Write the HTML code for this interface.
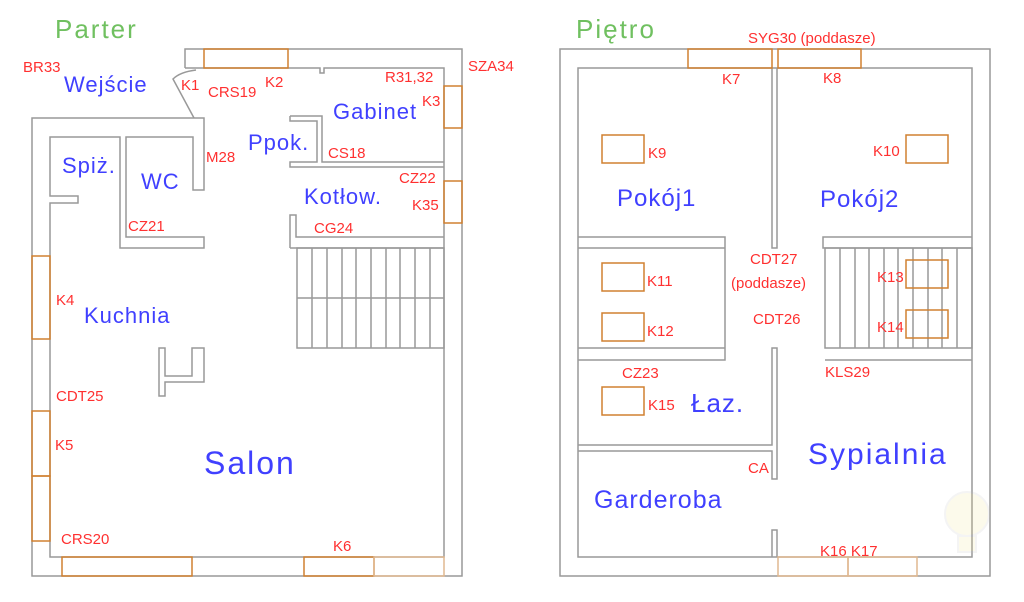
<!DOCTYPE html>
<html><head><meta charset="utf-8"><style>
body{margin:0;background:#fff}
svg{display:block}
text{font-family:"Liberation Sans","DejaVu Sans",sans-serif}
.r{fill:#ff3030;font-size:15px}
.b{fill:#4040ff;font-size:22px;letter-spacing:1px}
.g{fill:#70c060;font-size:26px;letter-spacing:2px}
.w{fill:none;stroke:#999;stroke-width:1.5}
.o{fill:none;stroke:#d08030;stroke-width:1.5}
</style></head><body>
<svg width="1024" height="602" viewBox="0 0 1024 602">
<!-- PARTER -->
<text class="g" x="55" y="38">Parter</text>
<g class="w">
<polyline points="185,68 185,49 462,49 462,576 32,576 32,118 204,118 204,190 193,190 193,137 126,137 126,237 204,237 204,248 120,248 120,137 50,137 50,196 78,196 78,203 50,203 50,557 444,557 444,68 324,68 324,73 320,73 320,68 196,68"/>
<polyline points="185,68 196,68"/>
<path d="M196,70 Q180,72 173,79 L194,118"/>
<polyline points="290,116 322,116 322,162 444,162"/>
<polyline points="290,116 290,121 317,121 317,162 290,162 290,167 444,167"/>
<polyline points="290,248 290,215 296,215 296,237 444,237"/>
<line x1="290" y1="248" x2="444" y2="248"/>
<rect x="297" y="248" width="147" height="100"/>
<line x1="297" y1="298" x2="444" y2="298"/>
<path d="M312,248V348M327,248V348M342,248V348M356,248V348M371,248V348M386,248V348M400,248V348M415,248V348M430,248V348"/>
<polygon points="159,396 159,348 165,348 165,376 192,376 192,348 204,348 204,382 165,382 165,396"/>
</g>
<g class="o">
<rect x="204" y="49" width="84" height="19"/>
<rect x="444" y="86" width="18" height="42"/>
<rect x="444" y="181" width="18" height="42"/>
<rect x="32" y="256" width="18" height="83"/>
<rect x="32" y="411" width="18" height="65"/>
<rect x="32" y="476" width="18" height="65"/>
<rect x="62" y="557" width="130" height="19"/>
<rect x="304" y="557" width="70" height="19"/>
<rect x="374" y="557" width="70" height="19" stroke="#e0b890"/>
</g>
<text class="r" x="23" y="72">BR33</text>
<text class="b" x="64" y="92">Wejście</text>
<text class="r" x="181" y="90">K1</text>
<text class="r" x="208" y="97">CRS19</text>
<text class="r" x="265" y="87">K2</text>
<text class="r" x="385" y="82">R31,32</text>
<text class="r" x="468" y="71">SZA34</text>
<text class="b" x="333" y="119">Gabinet</text>
<text class="r" x="422" y="106">K3</text>
<text class="b" x="248" y="150">Ppok.</text>
<text class="r" x="206" y="162">M28</text>
<text class="r" x="328" y="158">CS18</text>
<text class="b" x="62" y="173">Spiż.</text>
<text class="b" x="141" y="189">WC</text>
<text class="r" x="399" y="183">CZ22</text>
<text class="b" x="304" y="204">Kotłow.</text>
<text class="r" x="412" y="210">K35</text>
<text class="r" x="128" y="231">CZ21</text>
<text class="r" x="314" y="233">CG24</text>
<text class="r" x="56" y="305">K4</text>
<text class="b" x="84" y="323">Kuchnia</text>
<text class="r" x="56" y="401">CDT25</text>
<text class="r" x="55" y="450">K5</text>
<text class="b" x="204" y="474" style="font-size:32px;letter-spacing:2px">Salon</text>
<text class="r" x="61" y="544">CRS20</text>
<text class="r" x="333" y="551">K6</text>
<!-- PIETRO -->
<text class="g" x="576" y="38">Piętro</text>
<g class="w">
<rect x="560" y="49" width="430" height="527"/>
<rect x="578" y="68" width="394" height="489"/>
<polyline points="772,68 772,248 777,248 777,68"/>
<polyline points="578,237 725,237 725,360 578,360"/>
<line x1="578" y1="248" x2="725" y2="248"/>
<line x1="578" y1="348" x2="725" y2="348"/>
<polyline points="578,445 772,445 772,348 777,348 777,479 772,479 772,451 578,451"/>
<polyline points="772,557 772,530 777,530 777,557"/>
<polyline points="972,237 823,237 823,248 972,248"/>
<rect x="825" y="248" width="147" height="100"/>
<line x1="825" y1="360" x2="972" y2="360"/>
<path d="M840,248V348M855,248V348M869,248V348M884,248V348M898,248V348M913,248V348M928,248V348M942,248V348M957,248V348"/>
</g>
<g class="o">
<rect x="688" y="49" width="84" height="19"/>
<rect x="778" y="49" width="83" height="19"/>
<rect x="778" y="557" width="70" height="19" stroke="#e0b890"/>
<rect x="848" y="557" width="69" height="19" stroke="#e0b890"/>
<rect x="602" y="135" width="42" height="28"/>
<rect x="906" y="135" width="42" height="28"/>
<rect x="602" y="263" width="42" height="28"/>
<rect x="602" y="313" width="42" height="28"/>
<rect x="602" y="387" width="42" height="28"/>
<rect x="906" y="260" width="42" height="28"/>
<rect x="906" y="310" width="42" height="28"/>
</g>
<text class="r" x="748" y="43">SYG30 (poddasze)</text>
<text class="r" x="722" y="84">K7</text>
<text class="r" x="823" y="83">K8</text>
<text class="r" x="648" y="158">K9</text>
<text class="r" x="873" y="156">K10</text>
<text class="b" x="617" y="206" style="font-size:24px">Pokój1</text>
<text class="b" x="820" y="207" style="font-size:24px">Pokój2</text>
<text class="r" x="750" y="264">CDT27</text>
<text class="r" x="731" y="288">(poddasze)</text>
<text class="r" x="647" y="286">K11</text>
<text class="r" x="877" y="282">K13</text>
<text class="r" x="753" y="324">CDT26</text>
<text class="r" x="647" y="336">K12</text>
<text class="r" x="877" y="332">K14</text>
<text class="r" x="622" y="378">CZ23</text>
<text class="r" x="825" y="377">KLS29</text>
<text class="r" x="648" y="410">K15</text>
<text class="b" x="691" y="412" style="font-size:26px">Łaz.</text>
<text class="b" x="808" y="464" style="font-size:30px;letter-spacing:2px">Sypialnia</text>
<text class="r" x="748" y="473">CA</text>
<text class="b" x="594" y="508" style="font-size:25px">Garderoba</text>
<text class="r" x="820" y="556">K16 K17</text>
<g opacity="0.15" fill="#f0e080" stroke="#bbb" stroke-width="2">
<circle cx="967" cy="514" r="22"/>
<rect x="958" y="536" width="18" height="16"/>
</g>
</svg>
</body></html>
